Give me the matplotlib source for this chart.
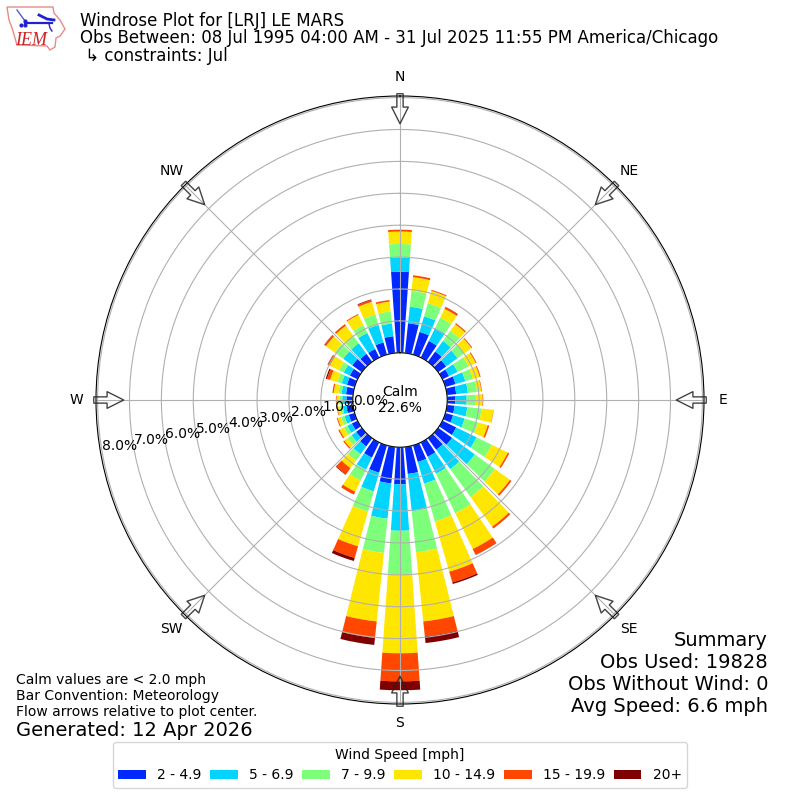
import numpy as np
import matplotlib
matplotlib.use("Agg")
import matplotlib.pyplot as plt
from matplotlib.patches import Polygon

# direction each bar points to, 10 degree bins starting at north
directions = np.arange(0, 360, 10)

# cumulative percent frequency at the top of each speed bin, per direction
top_2_5 = [2.54, 0.94, 0.74, 0.58, 0.40, 0.31, 0.23, 0.33, 0.29, 0.25, 0.24, 0.25,
           0.48, 0.54, 0.45, 0.50, 0.54, 0.85, 1.16, 1.15, 0.89, 0.53, 0.32, 0.22,
           0.20, 0.19, 0.20, 0.20, 0.22, 0.25, 0.27, 0.37, 0.31, 0.30, 0.40, 0.53]
top_5_7 = [2.99, 1.46, 1.25, 1.03, 0.81, 0.75, 0.53, 0.65, 0.66, 0.61, 0.64, 0.63,
           1.19, 1.42, 1.20, 1.09, 1.25, 2.02, 2.62, 2.26, 1.50, 0.95, 0.62, 0.40,
           0.36, 0.33, 0.32, 0.33, 0.36, 0.42, 0.48, 0.72, 0.72, 0.86, 0.97, 0.93]
top_7_10 = [3.41, 1.96, 1.68, 1.39, 1.20, 1.01, 0.91, 0.90, 0.95, 0.90, 1.09, 1.07,
            1.72, 2.20, 2.28, 2.47, 2.48, 3.32, 3.98, 3.34, 2.16, 1.33, 0.87, 0.56,
            0.48, 0.44, 0.41, 0.42, 0.46, 0.56, 0.64, 1.05, 0.98, 1.14, 1.31, 1.31]
top_10_15 = [3.80, 2.39, 2.08, 1.70, 1.46, 1.29, 1.16, 1.12, 1.08, 1.11, 1.46, 1.38,
             2.28, 2.78, 3.43, 3.72, 4.12, 5.50, 6.46, 5.50, 3.29, 1.72, 1.16, 0.68,
             0.63, 0.55, 0.49, 0.51, 0.61, 0.80, 0.97, 1.39, 1.40, 1.49, 1.72, 1.62]
top_15_20 = [3.86, 2.45, 2.11, 1.76, 1.50, 1.32, 1.19, 1.15, 1.10, 1.13, 1.47, 1.43,
             2.33, 2.84, 3.50, 3.92, 4.47, 5.97, 7.34, 6.02, 3.67, 1.82, 1.40, 0.72,
             0.67, 0.58, 0.51, 0.53, 0.65, 0.90, 1.04, 1.45, 1.46, 1.52, 1.78, 1.67]
top_20 = [3.86, 2.45, 2.11, 1.77, 1.50, 1.32, 1.19, 1.15, 1.10, 1.13, 1.47, 1.43,
          2.33, 2.84, 3.50, 3.93, 4.52, 6.18, 7.62, 6.24, 3.77, 1.82, 1.42, 0.72,
          0.67, 0.58, 0.51, 0.53, 0.65, 0.94, 1.05, 1.46, 1.46, 1.52, 1.80, 1.67]

speed_labels = ["2 - 4.9", "5 - 6.9", "7 - 9.9", "10 - 14.9", "15 - 19.9", "20+"]
speed_colors = ["#0028ff", "#00d4ff", "#7dff7a", "#ffe600", "#ff4700", "#7f0000"]

rings = [0, 1, 2, 3, 4, 5, 6, 7, 8]
compass = ["N", "NE", "E", "SE", "S", "SW", "W", "NW"]


def fig_text(x, y, s, **kw):
    # positions given in pixels from the top left
    return fig.text(x / 800, 1 - y / 800, s, **kw)


fig = plt.figure(figsize=(8, 8), dpi=100)
ax = fig.add_axes([96 / 800, 96 / 800, 608 / 800, 608 / 800], projection="polar")
ax.set_theta_zero_location("N")
ax.set_theta_direction(-1)

theta = np.deg2rad(directions)
width = np.deg2rad(8)
bottom = np.zeros(len(directions))
tops = [top_2_5, top_5_7, top_7_10, top_10_15, top_15_20, top_20]
for label, color, top in zip(speed_labels, speed_colors, tops):
    top = np.array(top)
    ax.bar(theta, top - bottom, width=width, bottom=bottom, color=color, label=label, linewidth=0)
    bottom = top

ax.set_rorigin(-1.48)
ax.set_ylim(0, 8.05)
ax.set_yticks(rings)
ax.set_yticklabels([f"{r:.1f}%" for r in rings])
ax.set_rlabel_position(260)
ax.set_thetagrids(np.arange(0, 360, 45), compass)
ax.grid(True)

# hollow flow arrows around the edge
for ang in np.arange(0, 360, 45):
    ax.annotate("", xy=(np.deg2rad(ang), 7.18), xytext=(np.deg2rad(ang), 8.12),
                annotation_clip=False,
                arrowprops=dict(arrowstyle="simple,head_length=12,head_width=12,tail_width=4.5",
                                mutation_scale=1, facecolor="none", edgecolor="#222222",
                                linewidth=1, shrinkA=0, shrinkB=0, alpha=0.85))

fig_text(400, 400, "Calm\n22.6%", ha="center", va="center", fontsize=10)

fig_text(80, 21, "Windrose Plot for [LRJ] LE MARS", fontsize=12, va="center")
fig_text(80, 38, "Obs Between: 08 Jul 1995 04:00 AM - 31 Jul 2025 11:55 PM America/Chicago", fontsize=12, va="center")
fig_text(80, 56, " \u21b3 constraints: Jul", fontsize=12, va="center")

fig_text(768, 640, "Summary", ha="right", va="center", fontsize=14)
fig_text(768, 662, "Obs Used: 19828", ha="right", va="center", fontsize=14)
fig_text(768, 684, "Obs Without Wind: 0", ha="right", va="center", fontsize=14)
fig_text(768, 706, "Avg Speed: 6.6 mph", ha="right", va="center", fontsize=14)

fig_text(16, 680, "Calm values are < 2.0 mph", va="center", fontsize=10)
fig_text(16, 696, "Bar Convention: Meteorology", va="center", fontsize=10)
fig_text(16, 712, "Flow arrows relative to plot center.", va="center", fontsize=10)
fig_text(16, 730, "Generated: 12 Apr 2026", va="center", fontsize=14)

fig.legend(loc="lower center", bbox_to_anchor=(0.5, 0.015), ncol=6, title="Wind Speed [mph]",
           fontsize=10, title_fontsize=10, borderaxespad=0, columnspacing=0.62)

# small IEM logo, drawn in its own pixel space
logo = fig.add_axes([0, 1 - 55 / 800, 70 / 800, 55 / 800])
logo.set_xlim(0, 70)
logo.set_ylim(55, 0)
logo.axis("off")
outline = [(7, 7), (53, 7), (54, 13), (60, 20), (65, 29), (60, 36), (56, 38), (55, 47), (50, 50),
           (47, 46), (17, 45), (15, 38), (12, 28), (9, 20)]
logo.add_patch(Polygon(outline, closed=True, facecolor="white", edgecolor="#e88a8a", linewidth=1))
logo.plot([25, 52], [23, 23], color="#2222cc", linewidth=1.6)
logo.plot([39, 47, 54], [15, 19, 20], color="#2222cc", linewidth=2)
logo.plot([17, 25], [10, 21], color="#5555dd", linewidth=1)
logo.plot([49, 50, 52], [24, 28, 31], color="#2222cc", linewidth=1)
logo.plot([21, 25, 25], [25, 25, 21], "o", color="#2222cc", markersize=2)
logo.text(15, 45, "IEM", color="#cc2222", fontsize=13, family="Liberation Serif", style="italic", va="baseline")

fig.savefig("out.png", dpi=100)
